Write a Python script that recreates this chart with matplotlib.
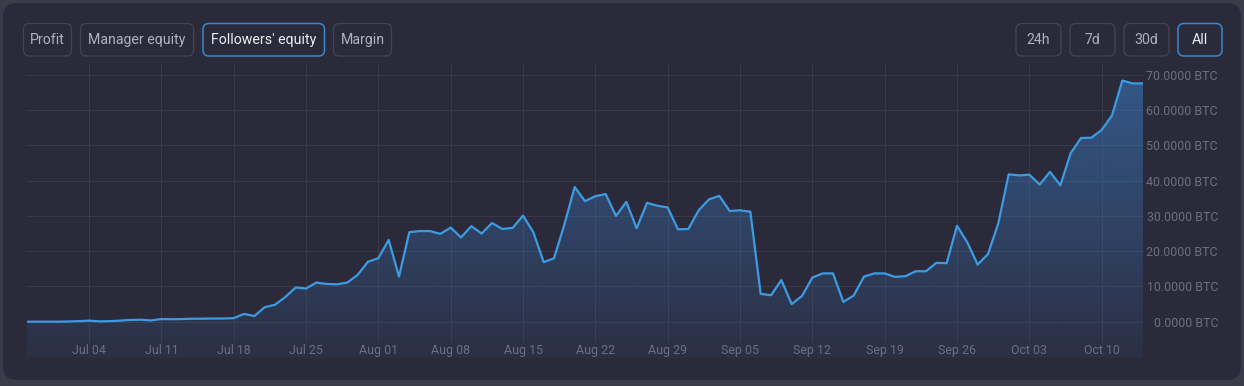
import numpy as np
import matplotlib
matplotlib.use("Agg")
import matplotlib.pyplot as plt
import matplotlib.dates as mdates
from matplotlib.patches import FancyBboxPatch
import datetime as dt

plt.rcParams['font.family'] = ['Roboto', 'DejaVu Sans']

# ---------------- data ----------------
start_date = dt.date(2021, 6, 28)
followers_equity = [
    0.0, 0.0, 0.0, 0.0, 0.05, 0.15, 0.3, 0.1, 0.15, 0.3,
    0.5, 0.55, 0.35, 0.75, 0.7, 0.75, 0.85, 0.85, 0.9, 0.9,
    1.0, 2.2, 1.6, 4.1, 4.8, 7.0, 9.7, 9.4, 11.1, 10.7,
    10.6, 11.1, 13.3, 17.0, 18.0, 23.2, 12.8, 25.4, 25.7, 25.7,
    24.9, 26.7, 23.9, 27.1, 25.0, 28.0, 26.3, 26.6, 30.1, 25.4,
    16.9, 18.0, 27.5, 38.2, 34.2, 35.6, 36.2, 30.0, 34.0, 26.5,
    33.7, 32.9, 32.4, 26.2, 26.3, 31.6, 34.7, 35.7, 31.4, 31.6,
    31.2, 7.9, 7.5, 11.8, 5.0, 7.3, 12.5, 13.7, 13.7, 5.6,
    7.4, 12.8, 13.7, 13.7, 12.7, 12.9, 14.3, 14.3, 16.7, 16.6,
    27.2, 22.5, 16.2, 19.2, 27.9, 41.8, 41.5, 41.7, 38.9, 42.5,
    38.7, 47.8, 52.1, 52.2, 54.4, 58.5, 68.4, 67.6, 67.6,
]
dates = [start_date + dt.timedelta(days=i) for i in range(len(followers_equity))]
x_tick_dates = [dt.date(2021, 7, 4) + dt.timedelta(days=7 * k) for k in range(15)]
y_ticks = [0, 10, 20, 30, 40, 50, 60, 70]
left_buttons = ["Profit", "Manager equity", "Followers' equity", "Margin"]
right_buttons = ["24h", "7d", "30d", "All"]

# ---------------- style ----------------
W, H = 1244, 386
OUTER = '#3b3b49'
PANEL = '#2b2a3b'
GRID = '#393949'
LINE = '#3d9be3'
TICK = '#6e6e80'

fig = plt.figure(figsize=(W / 100, H / 100), dpi=100)
fig.patch.set_facecolor(OUTER)

bg = fig.add_axes([0, 0, 1, 1])
bg.set_xlim(0, W)
bg.set_ylim(H, 0)
bg.axis('off')
bg.add_patch(FancyBboxPatch((3, 3), 1238, 377,
                            boxstyle='round,pad=0,rounding_size=14',
                            fc=PANEL, ec='none'))

def button(x0, x1, label, active):
    y0, y1 = 23.5, 56
    ec = '#3a88cc' if active else '#444453'
    tc = '#ececf2' if active else '#b0b0bd'
    bg.add_patch(FancyBboxPatch((x0, y0), x1 - x0, y1 - y0,
                                boxstyle='round,pad=0,rounding_size=6',
                                fc=PANEL, ec=ec, lw=1.1 if active else 0.9))
    bg.text((x0 + x1) / 2, (y0 + y1) / 2 + 0.5, label, ha='center', va='center',
            fontsize=10.2, color=tc)

left_pos = [(23.5, 71.5), (80.5, 193.5), (203, 324.5), (333.5, 391.5)]
right_pos = [(1016, 1061), (1070, 1115), (1124, 1169), (1178, 1222)]
for (x0, x1), lab in zip(left_pos, left_buttons):
    button(x0, x1, lab, lab == "Followers' equity")
for (x0, x1), lab in zip(right_pos, right_buttons):
    button(x0, x1, lab, lab == "All")

# ---------------- chart ----------------
ax_left, ax_right, ax_top, ax_bot = 27, 1143, 64, 358
ax = fig.add_axes([ax_left / W, (H - ax_bot) / H,
                   (ax_right - ax_left) / W, (ax_bot - ax_top) / H])
ax.set_facecolor('none')
for s in ax.spines.values():
    s.set_visible(False)

xnum = mdates.date2num(dates)
ymin, ymax = -10.3, 73.1
ax.set_xlim(xnum[0], xnum[-1])
ax.set_ylim(ymin, ymax)

# grid
ax.set_yticks(y_ticks)
ax.grid(axis='y', color=GRID, lw=0.8)
ax.set_axisbelow(True)
gfrac = (ax_bot - 342) / (ax_bot - ax_top)
for d in x_tick_dates:
    ax.axvline(mdates.date2num(d), ymin=gfrac, ymax=1, color=GRID, lw=0.8, zorder=0.5)

# gradient fill
poly = ax.fill_between(xnum, followers_equity, ymin, color='none', lw=0)
n = 256
alpha = np.linspace(0.06, 0.5, n)
img = np.zeros((n, 1, 4))
img[..., 0] = 0x3d / 255
img[..., 1] = 0x8a / 255
img[..., 2] = 0xdc / 255
img[:, 0, 3] = alpha
im = ax.imshow(img, extent=[xnum[0], xnum[-1], ymin, ymax], origin='lower',
               aspect='auto', zorder=1, interpolation='bilinear')
im.set_clip_path(poly.get_paths()[0], transform=ax.transData)

ax.plot(xnum, followers_equity, color=LINE, lw=1.6, zorder=3)

# ticks
ax.yaxis.tick_right()
ax.set_yticklabels([f"{v:.4f} BTC" for v in y_ticks])
ax.tick_params(axis='y', length=0, pad=54, labelcolor=TICK, labelsize=8.9)
for lbl in ax.get_yticklabels():
    lbl.set_horizontalalignment('right')

ax.set_xticks(mdates.date2num(x_tick_dates))
ax.set_xticklabels([d.strftime('%b %d') for d in x_tick_dates])
ax.tick_params(axis='x', length=0, pad=-10, labelcolor=TICK, labelsize=8.9)

fig.savefig('out.png', dpi=100, facecolor=OUTER)
